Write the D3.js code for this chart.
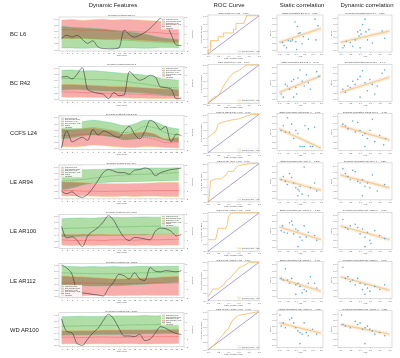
<!DOCTYPE html>
<html><head><meta charset="utf-8">
<script src="https://cdn.jsdelivr.net/npm/d3@7"></script>
<style>
body{margin:0;background:#fff}
text{font-family:"Liberation Sans",Arial,sans-serif}
</style>
</head><body>
<svg id="fig" width="400" height="358"></svg>
<script>
// ---- data ----
const rowLabels = ["BC L6", "BC R42", "CCFS L24", "LE AR94", "LE AR100", "LE AR112", "WD AR100"];
const headers = ["Dynamic Features", "ROC Curve", "Static correlation", "Dynamic correlation"];
const aucValues = [0.72, 0.66, 0.80, 0.79, 0.82, 0.71, 0.70];
const staticR = [0.38, 0.41, -0.45, -0.33, -0.36, -0.40, -0.31];
const dynamicR = [0.35, 0.44, -0.42, -0.37, -0.34, -0.39, -0.33];
const legendCorner = ["tr", "tr", "tl", "tl", "tr", "bl", "tr"];
const legendLabels = ["Responder mean", "Non-responder mean", "Responder ±1 SD", "Non-responder ±1 SD", "Patient", "Threshold"];

const timePoints = [1, 2, 3, 4, 5, 6, 7, 8, 9, 10, 11, 12, 13, 14, 15, 16, 17, 18, 19, 20, 21, 22, 23, 24];
const bandX = [1, 3, 5, 7, 9, 11, 13, 15, 17, 19, 21, 23.5];

const greenUp = [
  [0.75,0.72,0.70,0.68,0.66,0.62,0.58,0.55,0.50,0.42,0.36,0.32],
  [0.92,0.93,0.90,0.91,0.88,0.85,0.82,0.80,0.76,0.70,0.64,0.60],
  [0.72,0.78,0.85,0.90,0.86,0.80,0.72,0.78,0.90,0.85,0.70,0.62],
  [0.88,0.90,0.89,0.90,0.91,0.92,0.93,0.93,0.94,0.95,0.95,0.96],
  [0.90,0.92,0.93,0.92,0.94,0.95,0.94,0.95,0.96,0.95,0.96,0.96],
  [0.96,0.95,0.94,0.95,0.94,0.95,0.94,0.95,0.96,0.95,0.96,0.96],
  [0.92,0.93,0.94,0.93,0.94,0.95,0.95,0.95,0.96,0.95,0.96,0.96]
];
const greenLo = [
  [0.05,0.05,0.04,0.05,0.06,0.04,0.05,0.05,0.04,0.05,0.06,0.05],
  [0.28,0.30,0.29,0.27,0.25,0.24,0.22,0.20,0.18,0.15,0.12,0.10],
  [0.30,0.33,0.40,0.42,0.40,0.35,0.28,0.30,0.38,0.35,0.25,0.20],
  [0.25,0.30,0.40,0.46,0.48,0.50,0.50,0.51,0.52,0.53,0.54,0.55],
  [0.32,0.33,0.34,0.35,0.36,0.36,0.37,0.38,0.38,0.40,0.40,0.42],
  [0.35,0.34,0.33,0.32,0.32,0.33,0.34,0.36,0.38,0.40,0.42,0.45],
  [0.32,0.33,0.33,0.34,0.35,0.35,0.36,0.36,0.37,0.37,0.38,0.38]
];
const greenMid = [
  [0.36,0.37,0.36,0.35,0.33,0.32,0.30,0.28,0.26,0.24,0.22,0.20],
  [0.65,0.66,0.64,0.62,0.62,0.60,0.57,0.52,0.48,0.42,0.38,0.35],
  [0.55,0.58,0.62,0.66,0.62,0.56,0.50,0.55,0.70,0.65,0.50,0.42],
  [0.52,0.55,0.58,0.62,0.66,0.70,0.72,0.74,0.75,0.76,0.78,0.80],
  [0.58,0.60,0.60,0.62,0.63,0.64,0.64,0.65,0.66,0.66,0.67,0.68],
  [0.75,0.74,0.73,0.72,0.72,0.72,0.73,0.74,0.75,0.76,0.77,0.78],
  [0.62,0.62,0.63,0.63,0.64,0.64,0.65,0.66,0.66,0.67,0.68,0.68]
];
const redUp = [
  [0.95,0.97,0.94,0.96,0.98,0.95,0.97,0.96,0.94,0.92,0.90,0.88],
  [0.46,0.47,0.45,0.44,0.42,0.40,0.40,0.38,0.36,0.34,0.32,0.30],
  [0.62,0.60,0.62,0.65,0.60,0.55,0.45,0.50,0.52,0.45,0.30,0.35],
  [0.50,0.50,0.48,0.46,0.45,0.44,0.44,0.45,0.46,0.47,0.48,0.48],
  [0.42,0.40,0.41,0.40,0.40,0.39,0.40,0.40,0.41,0.40,0.40,0.40],
  [0.65,0.63,0.62,0.60,0.58,0.56,0.56,0.57,0.58,0.60,0.62,0.64],
  [0.48,0.47,0.48,0.48,0.49,0.49,0.50,0.50,0.50,0.51,0.51,0.52]
];
const redLo = [
  [0.36,0.35,0.36,0.34,0.33,0.33,0.32,0.30,0.28,0.26,0.24,0.22],
  [0.06,0.05,0.05,0.04,0.04,0.03,0.03,0.02,0.02,0.01,0.01,0.00],
  [0.05,0.04,0.06,0.10,0.08,0.05,0.03,0.02,0.05,0.04,0.02,0.00],
  [0.05,0.04,0.05,0.04,0.03,0.03,0.04,0.03,0.04,0.04,0.03,0.03],
  [0.05,0.04,0.05,0.04,0.05,0.04,0.05,0.04,0.05,0.04,0.05,0.05],
  [0.02,0.02,0.01,0.02,0.02,0.01,0.02,0.02,0.03,0.02,0.02,0.02],
  [0.05,0.05,0.04,0.05,0.05,0.04,0.05,0.05,0.04,0.05,0.05,0.06]
];
const redMid = [
  [0.64,0.64,0.62,0.63,0.62,0.60,0.60,0.58,0.56,0.55,0.52,0.50],
  [0.22,0.22,0.20,0.20,0.18,0.17,0.16,0.15,0.14,0.12,0.11,0.10],
  [0.40,0.42,0.44,0.46,0.42,0.38,0.28,0.30,0.34,0.28,0.18,0.20],
  [0.22,0.22,0.20,0.20,0.19,0.20,0.20,0.21,0.21,0.22,0.22,0.22],
  [0.22,0.20,0.20,0.21,0.20,0.22,0.22,0.21,0.22,0.22,0.23,0.24],
  [0.42,0.42,0.42,0.42,0.40,0.40,0.40,0.40,0.41,0.42,0.42,0.42],
  [0.26,0.26,0.25,0.26,0.27,0.26,0.26,0.27,0.27,0.28,0.28,0.28]
];
const patient = [
  [0.35,0.46,0.40,0.46,0.32,0.20,0.28,0.08,0.03,0.02,0.02,0.05,0.62,0.48,0.40,0.46,0.55,0.68,0.85,1.00,0.85,0.50,0.15,0.12],
  [0.70,0.72,0.64,0.80,1.00,0.30,0.22,0.18,0.15,0.00,0.20,0.10,0.12,0.88,0.72,0.60,0.66,0.76,0.70,0.38,0.36,0.32,0.00,0.02],
  [0.00,0.55,0.20,0.28,0.35,0.25,0.60,0.42,0.55,0.50,0.40,0.35,0.55,0.70,0.45,0.30,0.55,0.90,0.80,0.60,0.70,0.20,0.45,0.40],
  [0.20,0.12,0.18,0.05,0.00,0.10,0.30,0.55,0.80,0.90,0.85,0.80,0.80,0.75,0.88,0.90,0.95,0.90,0.70,0.80,0.85,0.90,0.92,0.95],
  [0.65,0.28,0.32,0.20,0.00,0.35,0.50,0.62,0.80,1.00,0.85,0.55,0.30,0.20,0.30,0.28,0.25,0.22,0.50,0.60,0.58,0.50,0.35,0.40],
  [1.00,0.90,0.70,0.15,0.10,0.08,0.05,0.03,0.00,0.25,0.45,0.70,0.65,0.55,0.75,0.55,0.50,0.92,0.80,0.78,0.82,0.80,0.78,0.82],
  [0.85,0.45,0.40,0.05,0.00,0.20,0.40,0.55,0.80,1.00,0.85,0.55,0.30,0.30,0.28,0.35,0.15,0.20,0.40,0.60,0.55,0.45,0.38,0.35]
];

const rocPoints = [
  [[0,0],[0,0.1],[0.05,0.1],[0.05,0.35],[0.2,0.35],[0.2,0.45],[0.3,0.45],[0.3,0.55],[0.5,0.55],[0.5,0.65],[0.55,0.65],[0.55,0.8],[0.7,0.8],[0.75,0.95],[0.75,1],[1,1]],
  [[0,0],[0.1,0.15],[0.2,0.2],[0.25,0.3],[0.3,0.45],[0.35,0.55],[0.4,0.65],[0.5,0.8],[0.6,0.85],[0.7,0.95],[0.75,1],[1,1]],
  [[0,0.4],[0.05,0.45],[0.1,0.5],[0.15,0.55],[0.2,0.75],[0.3,0.8],[0.45,0.85],[0.6,0.88],[0.75,0.95],[0.85,1],[1,1]],
  [[0,0],[0.02,0.1],[0.05,0.55],[0.15,0.6],[0.25,0.6],[0.35,0.7],[0.4,0.8],[0.5,0.8],[0.55,0.9],[0.6,0.95],[0.8,1],[1,1]],
  [[0,0.3],[0.15,0.3],[0.2,0.6],[0.35,0.6],[0.38,0.7],[0.4,0.9],[0.45,1],[1,1]],
  [[0,0.1],[0.05,0.2],[0.1,0.3],[0.2,0.3],[0.3,0.4],[0.35,0.5],[0.45,0.6],[0.5,0.7],[0.55,0.75],[0.6,0.85],[0.75,0.95],[0.8,1],[1,1]],
  [[0,0],[0.1,0.1],[0.2,0.25],[0.3,0.4],[0.35,0.5],[0.4,0.55],[0.45,0.7],[0.5,0.8],[0.6,0.9],[0.8,0.95],[1,1]]
];

const staticPts = [
  [[0.08,0.22],[0.12,0.12],[0.18,0.05],[0.22,0.28],[0.28,0.26],[0.32,0.30],[0.38,0.86],[0.40,0.24],[0.44,0.72],[0.47,0.50],[0.50,0.52],[0.55,0.18],[0.58,0.40],[0.70,0.32],[0.86,0.95],[0.88,0.30],[0.93,0.74],[0.42,0.00]],
  [[0.05,0.15],[0.1,0.05],[0.15,0.45],[0.2,0.40],[0.25,0.30],[0.3,0.55],[0.35,0.60],[0.4,0.35],[0.42,0.15],[0.45,0.65],[0.5,0.90],[0.55,0.55],[0.6,0.40],[0.65,0.75],[0.7,0.50],[0.75,0.30],[0.9,0.85],[0.95,0.70],[0.35,0.05]],
  [[0.05,0.55],[0.1,0.70],[0.15,0.50],[0.25,0.50],[0.3,0.75],[0.35,0.30],[0.4,0.55],[0.45,0.45],[0.5,0.05],[0.55,0.05],[0.6,0.05],[0.62,0.70],[0.7,0.60],[0.75,0.05],[0.8,0.05],[0.85,0.65],[0.2,0.95]],
  [[0.05,0.55],[0.1,0.65],[0.15,0.50],[0.2,0.40],[0.25,0.75],[0.3,0.62],[0.35,0.45],[0.4,0.30],[0.45,0.25],[0.48,0.20],[0.5,0.35],[0.55,0.10],[0.6,0.95],[0.7,0.05],[0.75,0.30],[0.85,0.45],[0.9,0.20],[0.45,0.05]],
  [[0.05,0.50],[0.08,0.65],[0.12,0.45],[0.2,0.42],[0.25,0.75],[0.3,0.80],[0.32,0.68],[0.35,0.40],[0.4,0.55],[0.45,0.50],[0.5,0.30],[0.55,0.20],[0.6,0.65],[0.65,0.30],[0.7,0.45],[0.85,0.35],[0.9,0.20],[0.45,0.00]],
  [[0.05,0.55],[0.1,0.50],[0.15,0.85],[0.2,0.50],[0.25,0.40],[0.3,0.55],[0.4,0.35],[0.45,0.40],[0.5,0.30],[0.55,0.10],[0.6,0.20],[0.65,0.15],[0.7,0.40],[0.75,0.60],[0.85,0.40],[0.9,0.25],[0.4,0.05]],
  [[0.02,0.95],[0.05,0.60],[0.1,0.70],[0.15,0.55],[0.25,0.80],[0.3,0.85],[0.35,0.70],[0.4,0.55],[0.45,0.45],[0.5,0.40],[0.55,0.35],[0.6,0.70],[0.65,0.40],[0.7,0.30],[0.8,0.50],[0.9,0.35],[0.5,0.05]]
];
const staticFit = [[0.22,0.66],[0.20,0.72],[0.60,0.00],[0.58,0.22],[0.62,0.22],[0.55,0.15],[0.70,0.38]];

const dynamicPts = [
  [[0.05,0.05],[0.08,0.12],[0.12,0.25],[0.2,0.22],[0.25,0.10],[0.3,0.30],[0.35,0.55],[0.38,0.42],[0.4,0.60],[0.42,0.48],[0.45,0.78],[0.5,0.95],[0.52,0.55],[0.55,0.30],[0.58,0.62],[0.65,0.20],[0.85,0.58],[0.9,0.35],[0.4,0.05]],
  [[0.05,0.30],[0.1,0.20],[0.15,0.40],[0.2,0.35],[0.25,0.55],[0.3,0.45],[0.35,0.60],[0.4,0.70],[0.45,0.88],[0.5,0.50],[0.55,0.25],[0.6,0.60],[0.65,0.45],[0.7,0.15],[0.75,0.40],[0.85,0.80],[0.9,0.90],[0.4,0.05]],
  [[0.05,0.75],[0.1,0.70],[0.15,0.60],[0.25,0.85],[0.3,0.50],[0.35,0.80],[0.4,0.55],[0.45,0.40],[0.5,0.45],[0.55,0.30],[0.6,0.55],[0.65,0.90],[0.7,0.20],[0.8,0.40],[0.88,0.10],[0.92,0.30],[0.5,0.05]],
  [[0.05,0.90],[0.1,0.75],[0.15,0.65],[0.2,0.55],[0.25,0.85],[0.3,0.80],[0.35,0.50],[0.4,0.45],[0.45,0.55],[0.5,0.35],[0.55,0.45],[0.6,0.30],[0.65,0.70],[0.75,0.20],[0.9,0.40],[0.45,0.05]],
  [[0.05,0.85],[0.1,0.60],[0.15,0.55],[0.2,0.65],[0.3,0.70],[0.35,0.60],[0.4,0.40],[0.45,0.55],[0.5,0.30],[0.55,0.45],[0.6,0.20],[0.62,0.10],[0.7,0.50],[0.8,0.35],[0.9,0.25],[0.5,0.00]],
  [[0.05,0.90],[0.1,0.55],[0.15,0.60],[0.2,0.45],[0.25,0.50],[0.3,0.35],[0.35,0.55],[0.4,0.40],[0.45,0.20],[0.5,0.35],[0.55,0.25],[0.6,0.15],[0.7,0.30],[0.8,0.20],[0.9,0.35],[0.5,0.05]],
  [[0.02,0.95],[0.05,0.65],[0.1,0.60],[0.2,0.55],[0.3,0.75],[0.35,0.65],[0.4,0.70],[0.45,0.50],[0.5,0.55],[0.55,0.60],[0.6,0.50],[0.65,0.45],[0.7,0.35],[0.8,0.40],[0.9,0.30],[0.5,0.05]]
];
const dynamicFit = [[0.22,0.58],[0.20,0.68],[0.70,0.25],[0.70,0.30],[0.65,0.22],[0.60,0.18],[0.65,0.35]];

// ---- layout ----
const svg = d3.select("#fig");
const rowTop = i => 17 + i * 49.3;
const tickFont = "2.2px";

// column headers
const headerX = [113, 229, 302, 367];
svg.selectAll(".hdr").data(headers).enter().append("text")
  .attr("class", "hdr")
  .attr("x", (d, i) => headerX[i]).attr("y", 7)
  .attr("text-anchor", "middle")
  .style("font-size", "6px").attr("fill", "#222")
  .text(d => d);

function styleAxis(g) {
  g.selectAll("path").attr("stroke", "#999").attr("stroke-width", 0.3);
  g.selectAll("line").attr("stroke", "#999").attr("stroke-width", 0.3);
  g.selectAll("text").style("font-size", tickFont).attr("fill", "#555");
}

function frame(g, x0, y0, w, h) {
  g.append("rect").attr("x", x0).attr("y", y0).attr("width", w).attr("height", h)
    .attr("fill", "none").attr("stroke", "#aaa").attr("stroke-width", 0.4);
}

function smallTitle(g, x, y, txt) {
  g.append("text").attr("x", x).attr("y", y).attr("text-anchor", "middle")
    .style("font-size", "2.4px").attr("fill", "#444").text(txt);
}

// Function to draw the dynamic features panel
function drawDynamic(g, i, x0, y0, w, h) {
  const x = d3.scaleLinear().domain([0.5, 24.5]).range([x0, x0 + w]);
  const y = d3.scaleLinear().domain([-0.05, 1.05]).range([y0 + h, y0]);
  const yR = d3.scaleLinear().domain([-2, 2]).range([y0 + h, y0]);

  g.append("clipPath").attr("id", "clip" + i).append("rect")
    .attr("x", x0).attr("y", y0).attr("width", w).attr("height", h);
  const inner = g.append("g").attr("clip-path", "url(#clip" + i + ")").style("isolation", "isolate");

  const gArea = d3.area().x((d, k) => x(bandX[k])).y0((d, k) => y(greenLo[i][k])).y1(d => y(d)).curve(d3.curveMonotoneX);
  const rArea = d3.area().x((d, k) => x(bandX[k])).y0((d, k) => y(redLo[i][k])).y1(d => y(d)).curve(d3.curveMonotoneX);
  const bLine = d3.line().x((d, k) => x(bandX[k])).y(d => y(d)).curve(d3.curveMonotoneX);

  inner.append("path").attr("d", gArea(greenUp[i])).attr("fill", "#b0dea6").style("mix-blend-mode", "multiply");
  inner.append("path").attr("d", rArea(redUp[i])).attr("fill", "#f8adad").style("mix-blend-mode", "multiply");

  [greenUp[i], greenLo[i]].forEach(arr => inner.append("path").attr("d", bLine(arr))
    .attr("fill", "none").attr("stroke", "#5ec89a").attr("stroke-width", 0.4));
  [redUp[i], redLo[i]].forEach(arr => inner.append("path").attr("d", bLine(arr))
    .attr("fill", "none").attr("stroke", "#efc45a").attr("stroke-width", 0.4));

  inner.append("path").attr("d", bLine(greenMid[i])).attr("fill", "none")
    .attr("stroke", "#3c9b3c").attr("stroke-width", 0.5).attr("stroke-dasharray", "1.2,0.8");
  inner.append("path").attr("d", bLine(redMid[i])).attr("fill", "none")
    .attr("stroke", "#d83a3a").attr("stroke-width", 0.5).attr("stroke-dasharray", "1.2,0.8");

  const pLine = d3.line().x((d, k) => x(timePoints[k])).y(d => y(d)).curve(d3.curveMonotoneX);
  inner.append("path").attr("d", pLine(patient[i])).attr("fill", "none")
    .attr("stroke", "#333").attr("stroke-width", 0.6);

  frame(g, x0, y0, w, h);

  const ax = g.append("g").attr("transform", `translate(0,${y0 + h})`)
    .call(d3.axisBottom(x).tickValues(timePoints).tickSize(1).tickPadding(0.6));
  styleAxis(ax); ax.select(".domain").remove();
  const ay = g.append("g").attr("transform", `translate(${x0},0)`)
    .call(d3.axisLeft(y).ticks(5).tickSize(1).tickPadding(0.6));
  styleAxis(ay); ay.select(".domain").remove();
  const ayr = g.append("g").attr("transform", `translate(${x0 + w},0)`)
    .call(d3.axisRight(yR).ticks(5).tickSize(1).tickPadding(0.6));
  styleAxis(ayr); ayr.select(".domain").remove();

  g.append("text").attr("x", x0 + w / 2).attr("y", y0 + h + 5.2).attr("text-anchor", "middle")
    .style("font-size", "2.2px").attr("fill", "#555").text("Time point");
  g.append("text").attr("transform", `translate(${x0 + w + 8},${y0 + h / 2}) rotate(90)`)
    .attr("text-anchor", "middle").style("font-size", "2.2px").attr("fill", "#555").text("Z-score");
  smallTitle(g, x0 + w / 2, y0 - 1, "Dynamic Features " + rowLabels[i]);

  // legend
  const lw = 22, lh = 11.5;
  const c = legendCorner[i];
  const lx = c.endsWith("r") ? x0 + w - lw - 1 : x0 + 1;
  const ly = c.startsWith("t") ? y0 + 1 : y0 + h - lh - 1;
  const lg = g.append("g").attr("transform", `translate(${lx},${ly})`);
  lg.append("rect").attr("width", lw).attr("height", lh).attr("fill", "#fff")
    .attr("fill-opacity", 0.85).attr("stroke", "#ccc").attr("stroke-width", 0.2);
  const legColors = ["#3c9b3c", "#d83a3a", "#9fd79a", "#f5a3a3", "#333", "#efc45a"];
  legendLabels.forEach((t, k) => {
    lg.append("line").attr("x1", 1).attr("x2", 4).attr("y1", 1.4 + k * 1.8).attr("y2", 1.4 + k * 1.8)
      .attr("stroke", legColors[k]).attr("stroke-width", k === 2 || k === 3 ? 1 : 0.4);
    lg.append("text").attr("x", 5).attr("y", 2 + k * 1.8).style("font-size", "1.6px")
      .attr("fill", "#444").text(t);
  });
}

function drawROC(g, i, x0, y0, w, h) {
  const x = d3.scaleLinear().domain([0, 1]).range([x0, x0 + w]);
  const y = d3.scaleLinear().domain([0, 1.02]).range([y0 + h, y0]);
  frame(g, x0, y0, w, h);
  g.append("line").attr("x1", x(0)).attr("y1", y(0)).attr("x2", x(1)).attr("y2", y(1))
    .attr("stroke", "#6b5fcf").attr("stroke-width", 0.6);
  g.append("path").attr("d", d3.line().x(d => x(d[0])).y(d => y(d[1]))(rocPoints[i]))
    .attr("fill", "none").attr("stroke", "#f6b756").attr("stroke-width", 0.8);
  const ax = g.append("g").attr("transform", `translate(0,${y0 + h})`)
    .call(d3.axisBottom(x).ticks(5).tickSize(1).tickPadding(0.6).tickFormat(d3.format(".1f")));
  styleAxis(ax); ax.select(".domain").remove();
  const ay = g.append("g").attr("transform", `translate(${x0},0)`)
    .call(d3.axisLeft(y).ticks(5).tickSize(1).tickPadding(0.6).tickFormat(d3.format(".1f")));
  styleAxis(ay); ay.select(".domain").remove();
  g.append("text").attr("x", x0 + w / 2).attr("y", y0 + h + 5).attr("text-anchor", "middle")
    .style("font-size", "2.2px").attr("fill", "#555").text("False Positive Rate");
  g.append("text").attr("transform", `translate(${x0 - 6},${y0 + h / 2}) rotate(-90)`)
    .attr("text-anchor", "middle").style("font-size", "2.2px").attr("fill", "#555").text("True Positive Rate");
  smallTitle(g, x0 + w / 2, y0 - 1, `ROC of ${rowLabels[i]} (AUC = ${aucValues[i].toFixed(2)})`);
  const lg = g.append("g").attr("transform", `translate(${x0 + w - 22},${y0 + h - 4})`);
  lg.append("rect").attr("width", 21).attr("height", 3).attr("fill", "#fff").attr("stroke", "#ccc").attr("stroke-width", 0.2);
  lg.append("line").attr("x1", 1).attr("x2", 4).attr("y1", 1.5).attr("y2", 1.5).attr("stroke", "#f6b756").attr("stroke-width", 0.6);
  lg.append("text").attr("x", 5).attr("y", 2.1).style("font-size", "1.6px").attr("fill", "#444")
    .text(`ROC curve (area = ${aucValues[i].toFixed(2)})`);
}

function drawScatter(g, pts, fit, r, label, x0, y0, w, h) {
  const x = d3.scaleLinear().domain([-0.05, 1.05]).range([x0, x0 + w]);
  const y = d3.scaleLinear().domain([-0.08, 1.08]).range([y0 + h, y0]);
  frame(g, x0, y0, w, h);
  const band = d3.area().x(d => x(d[0])).y0(d => y(d[1] - 0.07)).y1(d => y(d[1] + 0.07));
  g.append("path").attr("d", band([[0, fit[0]], [1, fit[1]]])).attr("fill", "#f8d8b0").attr("opacity", 0.35);
  g.append("line").attr("x1", x(0)).attr("y1", y(fit[0])).attr("x2", x(1)).attr("y2", y(fit[1]))
    .attr("stroke", "#f6cd9a").attr("stroke-width", 1.4);
  g.selectAll(null).data(pts).enter().append("circle")
    .attr("cx", d => x(d[0])).attr("cy", d => y(d[1])).attr("r", 0.8).attr("fill", "#5ea8dc");
  const ax = g.append("g").attr("transform", `translate(0,${y0 + h})`)
    .call(d3.axisBottom(x).ticks(4).tickSize(1).tickPadding(0.6));
  styleAxis(ax); ax.select(".domain").remove();
  const ay = g.append("g").attr("transform", `translate(${x0},0)`)
    .call(d3.axisLeft(y).ticks(6).tickSize(1).tickPadding(0.6));
  styleAxis(ay); ay.select(".domain").remove();
  g.append("text").attr("x", x0 + w / 2).attr("y", y0 + h + 5).attr("text-anchor", "middle")
    .style("font-size", "2.2px").attr("fill", "#555").text("AUC");
  g.append("text").attr("transform", `translate(${x0 - 6},${y0 + h / 2}) rotate(-90)`)
    .attr("text-anchor", "middle").style("font-size", "2.2px").attr("fill", "#555").text("Value");
  smallTitle(g, x0 + w / 2, y0 - 1, `${label} (r = ${r.toFixed(2)})`);
}

rowLabels.forEach((lab, i) => {
  const top = rowTop(i);
  const g = svg.append("g");
  g.append("text").attr("x", 10).attr("y", top + 19).style("font-size", "5.8px").attr("fill", "#222").text(lab);
  drawDynamic(g, i, 59, top, 125, 34);
  drawROC(g, i, 208, top - 2, 51, 39);
  drawScatter(g, staticPts[i], staticFit[i], staticR[i], "Static correlation " + lab, 277, top - 2, 46, 37);
  drawScatter(g, dynamicPts[i], dynamicFit[i], dynamicR[i], "Dynamic correlation " + lab, 338, top - 2, 54, 37);
});
</script>
</body></html>
